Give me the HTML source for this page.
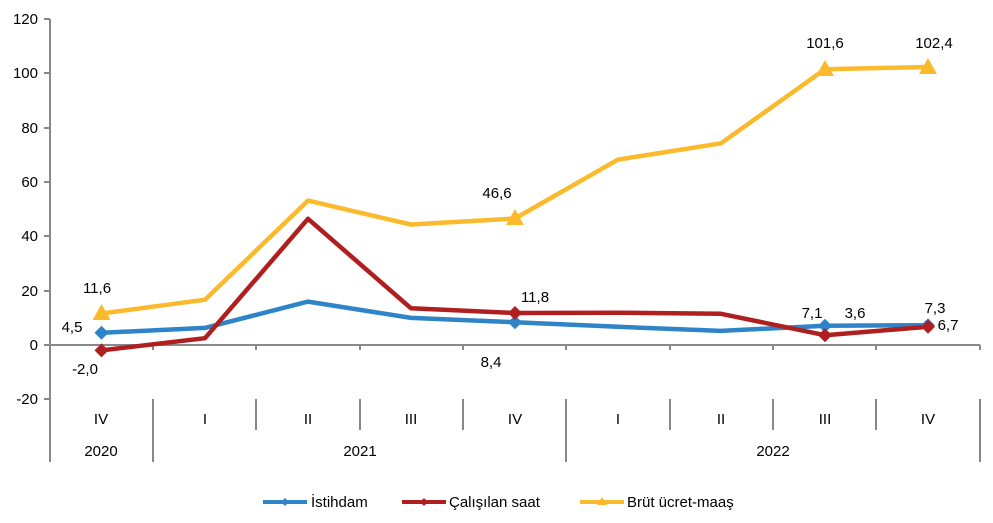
<!DOCTYPE html>
<html><head><meta charset="utf-8"><style>body{margin:0;background:#fff}svg{display:block}text{font-family:"Liberation Sans",sans-serif;font-size:15px;fill:#000}</style></head><body>
<svg width="993" height="523" viewBox="0 0 993 523">
<g stroke="#888" stroke-width="2" fill="none">
<line x1="50" y1="19" x2="50" y2="462"/>
<line x1="50" y1="345" x2="980" y2="345"/>
<line x1="44" y1="19" x2="50" y2="19"/><line x1="44" y1="73" x2="50" y2="73"/><line x1="44" y1="128" x2="50" y2="128"/><line x1="44" y1="182" x2="50" y2="182"/><line x1="44" y1="236" x2="50" y2="236"/><line x1="44" y1="291" x2="50" y2="291"/><line x1="44" y1="345" x2="50" y2="345"/><line x1="44" y1="399" x2="50" y2="399"/>
<path d="M153 345v5M256 345v5M360 345v5M463 345v5M566 345v5M670 345v5M773 345v5M876 345v5M980 345v5"/>
<path d="M153 399v63M566 399v63M980 399v63M256 399v31M360 399v31M463 399v31M670 399v31M773 399v31M876 399v31"/>
</g>
<g text-anchor="end"><text x="38" y="24">120</text><text x="38" y="78">100</text><text x="38" y="133">80</text><text x="38" y="187">60</text><text x="38" y="241">40</text><text x="38" y="296">20</text><text x="38" y="350">0</text><text x="38" y="404">-20</text></g>
<g text-anchor="middle"><text x="101" y="424">IV</text><text x="205" y="424">I</text><text x="308" y="424">II</text><text x="411" y="424">III</text><text x="515" y="424">IV</text><text x="618" y="424">I</text><text x="721" y="424">II</text><text x="825" y="424">III</text><text x="928" y="424">IV</text>
<text x="101" y="456">2020</text><text x="360" y="456">2021</text><text x="773" y="456">2022</text></g>
<g fill="none" stroke-width="4.5" stroke-linejoin="round">
<polyline stroke="#FBBA2B" points="101.5,313.5 205,299.7 308,200.6 411,224.5 515,218.5 618,159.6 721,143.3 825,69.2 928,67"/>
<polyline stroke="#2E84C6" points="101.5,332.8 205,327.9 308,301.6 411,317.9 515,322.2 618,326.8 721,330.9 825,325.7 928,325.2"/>
<polyline stroke="#B01F1F" points="101.5,350.4 205,338.2 308,218.8 411,308.3 515,313 618,312.7 721,313.8 825,335.2 928,326.8"/>
</g>
<g fill="#FBBA2B"><path d="M101.5 304l9 16h-18z"/><path d="M515 209l9 16h-18z"/><path d="M825 60l9 16h-18z"/><path d="M928 58l9 16h-18z"/></g>
<g fill="#2E84C6"><path d="M101.5 325.8l7 7-7 7-7-7z"/><path d="M515 315.2l7 7-7 7-7-7z"/><path d="M825 318.7l7 7-7 7-7-7z"/><path d="M928 318.2l7 7-7 7-7-7z"/></g>
<g fill="#B01F1F"><path d="M101.5 343.4l7 7-7 7-7-7z"/><path d="M515 306l7 7-7 7-7-7z"/><path d="M825 328.2l7 7-7 7-7-7z"/><path d="M928 319.8l7 7-7 7-7-7z"/></g>
<g text-anchor="middle"><text x="97" y="293">11,6</text><text x="72" y="332">4,5</text><text x="85" y="374">-2,0</text><text x="497" y="198">46,6</text><text x="535" y="302">11,8</text><text x="491" y="367">8,4</text><text x="825" y="48">101,6</text><text x="934" y="48">102,4</text><text x="812" y="318">7,1</text><text x="855" y="318">3,6</text><text x="935" y="313">7,3</text><text x="948" y="330">6,7</text></g>
<g stroke-width="4"><line x1="263" y1="502" x2="307" y2="502" stroke="#2E84C6"/><line x1="402" y1="502" x2="446" y2="502" stroke="#B01F1F"/><line x1="580" y1="502" x2="624" y2="502" stroke="#FBBA2B"/></g>
<path d="M285 498l4 4-4 4-4-4z" fill="#2E84C6"/><path d="M424 498l4 4-4 4-4-4z" fill="#B01F1F"/><path d="M602 497l5 8h-10z" fill="#FBBA2B"/>
<text x="311" y="507">İstihdam</text><text x="449" y="507">Çalışılan saat</text><text x="627" y="507">Brüt ücret-maaş</text>
</svg>
</body></html>
